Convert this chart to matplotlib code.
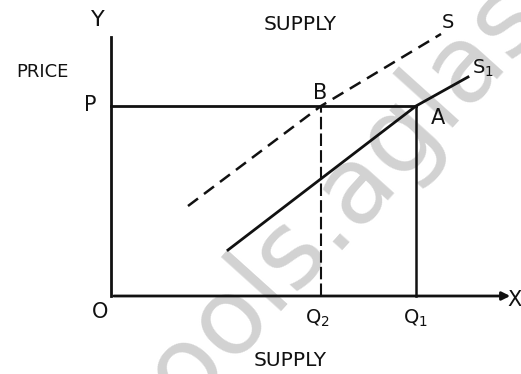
import matplotlib.pyplot as plt

# points in diagram units (origin O at bottom-left of the axes)
price_p = 190
q2 = 210
q1 = 305

# dashed original supply curve S (passes through B)
s_x = [77, q2, 330]
s_y = [90, price_p, 262]

# solid shifted supply curve S1 (passes through A)
s1_x = [117, q1, 357]
s1_y = [46, price_p, 219]

ink = '#111111'

fig = plt.figure(figsize=(5.21, 3.74), dpi=100)
ax = fig.add_axes([0, 0, 1, 1])
ax.set_xlim(-111, 410)
ax.set_ylim(-78, 296)
ax.axis('off')

# watermark
wm = dict(color='#d2d2d2', fontsize=77, family='DejaVu Sans', rotation=48,
          rotation_mode='anchor', va='baseline', zorder=0)
ax.text(220, 46, 'schools', ha='right', **wm)
ax.text(220, 46, '.aglasem.com', ha='left', **wm)

# axes
ax.plot([0, 0], [0, 259], color=ink, lw=2)
ax.annotate('', xy=(402, 0), xytext=(0, 0),
            arrowprops=dict(arrowstyle='-|>', color=ink, lw=2, mutation_scale=12))

# price line and quantity lines
ax.plot([0, q1], [price_p, price_p], color=ink, lw=2)
ax.plot([q2, q2], [0, price_p], color=ink, lw=1.5, ls=(0, (6, 2)))
ax.plot([q1, q1], [0, price_p], color=ink, lw=1.8)

# supply curves
ax.plot(s_x, s_y, color=ink, lw=1.8, ls=(0, (5, 3)))
ax.plot(s1_x, s1_y, color=ink, lw=2)

# labels
ax.text(-13, 276, 'Y', fontsize=16, ha='center', va='center', color=ink)
ax.text(-69, 224, 'PRICE', fontsize=13, ha='center', va='center', color=ink)
ax.text(-21, 191, 'P', fontsize=15, ha='center', va='center', color=ink)
ax.text(189, 272, 'SUPPLY', fontsize=14.5, ha='center', va='center', color=ink)
ax.text(337, 274, 'S', fontsize=14, ha='center', va='center', color=ink)
ax.text(372, 228, 'S$_1$', fontsize=14, ha='center', va='center', color=ink)
ax.text(209, 203, 'B', fontsize=15, ha='center', va='center', color=ink)
ax.text(327, 178, 'A', fontsize=15, ha='center', va='center', color=ink)
ax.text(-11, -16, 'O', fontsize=15, ha='center', va='center', color=ink)
ax.text(206, -22, 'Q$_2$', fontsize=14, ha='center', va='center', color=ink)
ax.text(304, -22, 'Q$_1$', fontsize=14, ha='center', va='center', color=ink)
ax.text(179, -64, 'SUPPLY', fontsize=14.5, ha='center', va='center', color=ink)
ax.text(403, -4, 'X', fontsize=15, ha='center', va='center', color=ink)

fig.savefig('out.png', dpi=100)
